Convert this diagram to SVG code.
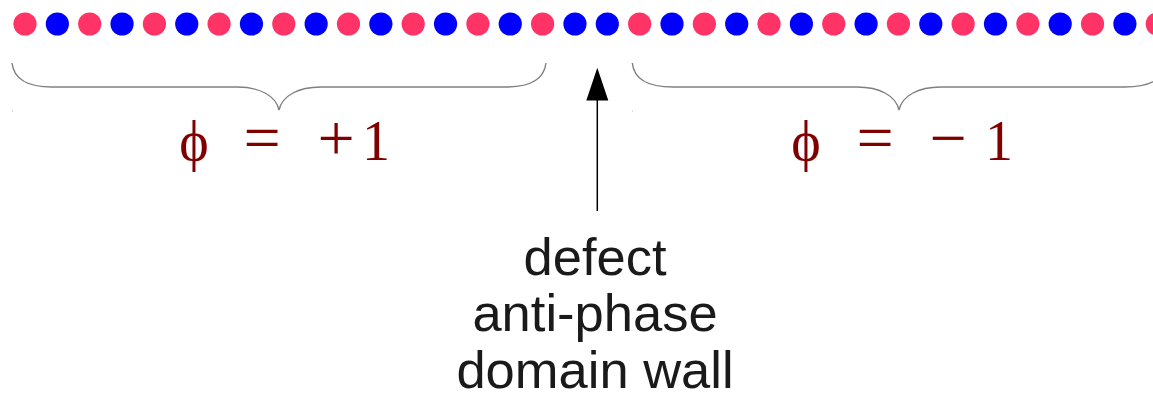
<svg xmlns="http://www.w3.org/2000/svg" width="1153" height="397" viewBox="0 0 1153 397">
<style>
.r{fill:#ff3366}
.b{fill:#0000ff}
.brace{fill:none;stroke:#808080;stroke-width:1.4}
.math{font-family:"Liberation Serif","DejaVu Serif",serif;font-size:56px;fill:#800000;text-anchor:middle}
.op{font-size:66px}
.lbl{font-family:"Liberation Sans",Arial,sans-serif;font-size:52.5px;fill:#1a1a1a;text-anchor:middle}
</style>
<rect width="1153" height="397" fill="#fff"/>
<g id="chain">
<circle class="r" cx="25" cy="24" r="11.6"/>
<circle class="b" cx="57.35" cy="24" r="11.6"/>
<circle class="r" cx="89.7" cy="24" r="11.6"/>
<circle class="b" cx="122.05" cy="24" r="11.6"/>
<circle class="r" cx="154.4" cy="24" r="11.6"/>
<circle class="b" cx="186.75" cy="24" r="11.6"/>
<circle class="r" cx="219.1" cy="24" r="11.6"/>
<circle class="b" cx="251.45" cy="24" r="11.6"/>
<circle class="r" cx="283.8" cy="24" r="11.6"/>
<circle class="b" cx="316.15" cy="24" r="11.6"/>
<circle class="r" cx="348.5" cy="24" r="11.6"/>
<circle class="b" cx="380.85" cy="24" r="11.6"/>
<circle class="r" cx="413.2" cy="24" r="11.6"/>
<circle class="b" cx="445.55" cy="24" r="11.6"/>
<circle class="r" cx="477.9" cy="24" r="11.6"/>
<circle class="b" cx="510.25" cy="24" r="11.6"/>
<circle class="r" cx="542.6" cy="24" r="11.6"/>
<circle class="b" cx="574.95" cy="24" r="11.6"/>
<circle class="b" cx="607.3" cy="24" r="11.6"/>
<circle class="r" cx="639.65" cy="24" r="11.6"/>
<circle class="b" cx="672" cy="24" r="11.6"/>
<circle class="r" cx="704.35" cy="24" r="11.6"/>
<circle class="b" cx="736.7" cy="24" r="11.6"/>
<circle class="r" cx="769.05" cy="24" r="11.6"/>
<circle class="b" cx="801.4" cy="24" r="11.6"/>
<circle class="r" cx="833.75" cy="24" r="11.6"/>
<circle class="b" cx="866.1" cy="24" r="11.6"/>
<circle class="r" cx="898.45" cy="24" r="11.6"/>
<circle class="b" cx="930.8" cy="24" r="11.6"/>
<circle class="r" cx="963.15" cy="24" r="11.6"/>
<circle class="b" cx="995.5" cy="24" r="11.6"/>
<circle class="r" cx="1027.85" cy="24" r="11.6"/>
<circle class="b" cx="1060.2" cy="24" r="11.6"/>
<circle class="r" cx="1092.55" cy="24" r="11.6"/>
<circle class="b" cx="1124.9" cy="24" r="11.6"/>
<circle class="r" cx="1157.25" cy="24" r="11.6"/>
</g>
<g id="brace-left">
<path class="brace" d="M12,63 C14,80 30,87 52,87 L237,87 C260,87 276,96 279,110 C282,96 298,87 321,87 L506,87 C528,87 544,80 546,63"/>
<rect x="12" y="110.5" width="1" height="1" fill="#bbb"/>
</g>
<g id="brace-right">
<path class="brace" d="M632.3,63 C634,80 650,87 673,87 L857,87 C880,87 896,96 899,110 C902,96 918,87 941,87 L1125,87 C1148,87 1164,80 1166,63"/>
<rect x="632" y="110.5" width="1" height="1" fill="#bbb"/>
</g>
<g id="label-plus">
<text class="math" y="160"><tspan x="194">ϕ</tspan><tspan class="op" x="262">=</tspan><tspan class="op" x="336">+</tspan><tspan x="376">1</tspan></text>
</g>
<g id="label-minus">
<text class="math" y="160"><tspan x="806">ϕ</tspan><tspan class="op" x="875">=</tspan><tspan class="op" x="948">−</tspan><tspan x="999">1</tspan></text>
</g>
<g id="connectors">
<line x1="597.3" y1="211" x2="597.3" y2="98" stroke="#000" stroke-width="1.5"/>
<polygon points="597.3,67.7 586.3,100.5 608.3,100.5" fill="#000"/>
</g>
<g id="label-defect">
<text class="lbl" x="595" y="275">defect</text>
<text class="lbl" x="595" y="331">anti-phase</text>
<text class="lbl" x="595" y="388">domain wall</text>
</g>
</svg>
